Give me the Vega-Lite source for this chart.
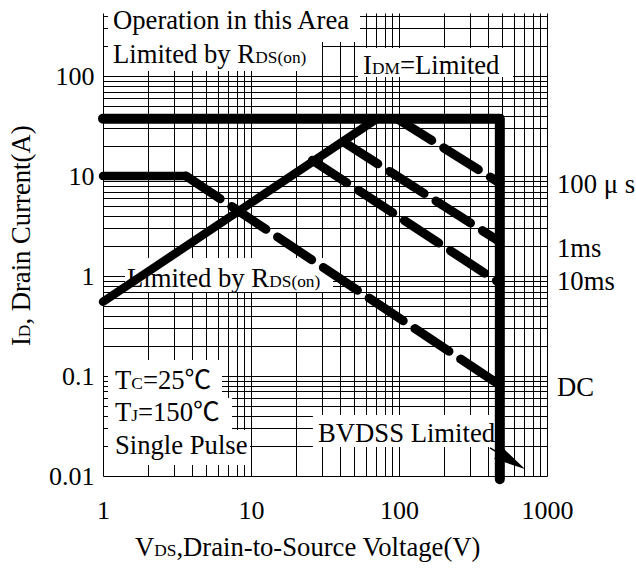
{
  "$schema": "https://vega.github.io/schema/vega-lite/v6.json",
  "width": 444,
  "height": 463,
  "autosize": {"type": "none"},
  "padding": {"left": 103, "top": 13, "right": 89, "bottom": 94},
  "background": "white",
  "config": {
    "view": {"stroke": null},
    "axis": {
      "grid": true, "gridColor": "#000", "gridWidth": 1, "gridOpacity": 1,
      "domain": false, "ticks": false, "tickSize": 0,
      "labelFont": "Liberation Serif", "labelFontSize": 26, "labelColor": "#000",
      "labelOverlap": false, "labelFlush": false, "labelBound": false, "title": null
    }
  },
  "datasets": {
    "boxes": [
      {"x": 1.08, "x2": 54.5, "y": 219, "y2": 430},
      {"x": 1.08, "x2": 30.2, "y": 112, "y2": 229},
      {"x": 52.8, "x2": 589, "y": 97.7, "y2": 190.5},
      {"x": 1.408, "x2": 35.8, "y": 0.692, "y2": 1.514},
      {"x": 1.081, "x2": 6.37, "y": 0.0603, "y2": 0.1445},
      {"x": 1.081, "x2": 7.44, "y": 0.0288, "y2": 0.0603},
      {"x": 1.081, "x2": 9.85, "y": 0.0129, "y2": 0.0288},
      {"x": 26.2, "x2": 520, "y": 0.0195, "y2": 0.0407}
    ],
    "mainText": [
      {"t": "Operation in this Area", "x": 1.168, "y": 295},
      {"t": "Limited by R", "x": 1.168, "y": 135},
      {"t": "I", "x": 57.1, "y": 104.7},
      {"t": "=Limited", "x": 101.6, "y": 104.7},
      {"t": "Limited by R", "x": 1.452, "y": 0.776},
      {"t": "T", "x": 1.205, "y": 0.0741},
      {"t": "=25℃", "x": 1.861, "y": 0.0741},
      {"t": "T", "x": 1.205, "y": 0.0355},
      {"t": "=150℃", "x": 1.724, "y": 0.0355},
      {"t": "Single Pulse", "x": 1.205, "y": 0.0166},
      {"t": "BVDSS Limited", "x": 28.4, "y": 0.0219},
      {"t": "100 μ s", "x": 1169, "y": 6.76},
      {"t": "1ms", "x": 1169, "y": 1.549},
      {"t": "10ms", "x": 1169, "y": 0.724},
      {"t": "DC", "x": 1169, "y": 0.0631},
      {"t": "V", "x": 1.645, "y": 0.001585},
      {"t": ",Drain-to-Source Voltage(V)", "x": 3.133, "y": 0.001585}
    ],
    "subText": [
      {"t": "DS(on)", "x": 10.7, "y": 135},
      {"t": "DM", "x": 65.7, "y": 104.7},
      {"t": "DS(on)", "x": 13.29, "y": 0.776},
      {"t": "C", "x": 1.553, "y": 0.0741},
      {"t": "J", "x": 1.553, "y": 0.0355},
      {"t": "DS", "x": 2.222, "y": 0.001585}
    ],
    "rotMain": [
      {"t": "I", "x": 0.321, "y": 0.1995},
      {"t": ", Drain Current(A)", "x": 0.321, "y": 0.3266}
    ],
    "rotSub": [
      {"t": "D", "x": 0.321, "y": 0.2446}
    ],
    "box": [
      {"x": 1, "y": 37.5, "i": 0},
      {"x": 480, "y": 37.5, "i": 1},
      {"x": 480, "y": 0.0093, "i": 2}
    ],
    "solid": [
      {"s": "rds", "x": 1, "y": 0.553, "i": 0},
      {"s": "rds", "x": 71, "y": 37.5, "i": 1},
      {"s": "dc", "x": 1, "y": 10, "i": 0},
      {"s": "dc", "x": 3.64, "y": 10, "i": 1}
    ],
    "dashed": [
      {"s": "100us", "x": 97, "y": 37.5, "i": 0},
      {"s": "100us", "x": 480, "y": 8.5, "i": 1},
      {"s": "1ms", "x": 42, "y": 22, "i": 0},
      {"s": "1ms", "x": 480, "y": 2.2, "i": 1},
      {"s": "10ms", "x": 26, "y": 14.4, "i": 0},
      {"s": "10ms", "x": 480, "y": 0.85, "i": 1},
      {"s": "dc", "x": 3.64, "y": 10, "i": 0},
      {"s": "dc", "x": 480, "y": 0.081, "i": 1}
    ],
    "arrow": [
      {"x": 412, "y": 0.0191, "i": 0},
      {"x": 575, "y": 0.01416, "i": 1}
    ],
    "head": [
      {"x": 575, "y": 0.01416}
    ]
  },
  "encoding": {
    "x": {
      "field": "x", "type": "quantitative",
      "scale": {"type": "log", "domain": [1, 1000], "nice": false},
      "axis": {
        "values": [1,2,3,4,5,6,7,8,9,10,20,30,40,50,60,70,80,90,100,200,300,400,500,600,700,800,900,1000],
        "labelPadding": 21,
        "labelExpr": "(datum.value==1||datum.value==10||datum.value==100||datum.value==1000) ? ''+datum.value : ''"
      }
    },
    "y": {
      "field": "y", "type": "quantitative",
      "scale": {"type": "log", "domain": [0.01, 427], "nice": false},
      "axis": {
        "values": [0.01,0.02,0.03,0.04,0.05,0.06,0.07,0.08,0.09,0.1,0.2,0.3,0.4,0.5,0.6,0.7,0.8,0.9,1,2,3,4,5,6,7,8,9,10,20,30,40,50,60,70,80,90,100,200,300,400],
        "labelPadding": 9,
        "labelExpr": "(datum.value==0.01||datum.value==0.1||datum.value==1||datum.value==10||datum.value==100) ? ''+datum.value : ''"
      }
    }
  },
  "layer": [
    {
      "data": {"name": "boxes"},
      "mark": {"type": "rect", "fill": "white", "stroke": null},
      "encoding": {"x2": {"field": "x2"}, "y2": {"field": "y2"}}
    },
    {
      "data": {"name": "mainText"},
      "mark": {"type": "text", "font": "Liberation Serif, Noto Sans CJK SC, serif", "fontSize": 26.67, "align": "left", "baseline": "alphabetic", "color": "#000"},
      "encoding": {"text": {"field": "t"}}
    },
    {
      "data": {"name": "subText"},
      "mark": {"type": "text", "font": "Liberation Serif, serif", "fontSize": 17.33, "align": "left", "baseline": "alphabetic", "color": "#000"},
      "encoding": {"text": {"field": "t"}}
    },
    {
      "data": {"name": "rotMain"},
      "mark": {"type": "text", "font": "Liberation Serif, serif", "fontSize": 26.67, "align": "left", "baseline": "alphabetic", "angle": 270, "color": "#000"},
      "encoding": {"text": {"field": "t"}}
    },
    {
      "data": {"name": "rotSub"},
      "mark": {"type": "text", "font": "Liberation Serif, serif", "fontSize": 17.33, "align": "left", "baseline": "alphabetic", "angle": 270, "color": "#000"},
      "encoding": {"text": {"field": "t"}}
    },
    {
      "data": {"name": "solid"},
      "mark": {"type": "line", "color": "#000", "strokeWidth": 8.5, "strokeCap": "round", "strokeJoin": "round"},
      "encoding": {"detail": {"field": "s"}, "order": {"field": "i"}}
    },
    {
      "data": {"name": "dashed"},
      "mark": {"type": "line", "color": "#000", "strokeWidth": 9, "strokeCap": "round", "strokeDash": [41, 14]},
      "encoding": {"detail": {"field": "s"}, "order": {"field": "i"}}
    },
    {
      "data": {"name": "box"},
      "mark": {"type": "line", "color": "#000", "strokeWidth": 10, "strokeCap": "round", "strokeJoin": "round"},
      "encoding": {"order": {"field": "i"}}
    },
    {
      "data": {"name": "arrow"},
      "mark": {"type": "line", "color": "#000", "strokeWidth": 1.5},
      "encoding": {"order": {"field": "i"}}
    },
    {
      "data": {"name": "head"},
      "mark": {"type": "point", "shape": "M-1,-0.45L1,0L-1,0.45Z", "filled": true, "color": "#000", "opacity": 1, "size": 1000, "angle": 31}
    }
  ]
}
